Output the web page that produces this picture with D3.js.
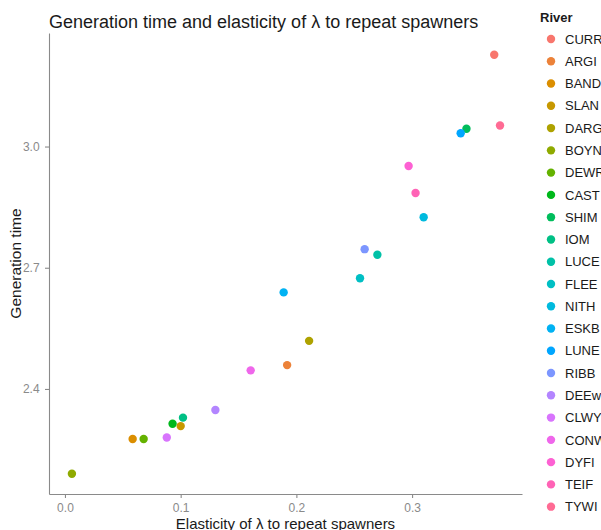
<!DOCTYPE html>
<html>
<head>
<meta charset="utf-8">
<script src="https://cdn.jsdelivr.net/npm/d3@7"></script>
<style>
  html, body { margin: 0; padding: 0; background: #fff; }
  svg { display: block; font-family: "Liberation Sans", Arial, sans-serif; }
</style>
</head>
<body>
<svg id="chart" width="601" height="530"></svg>
<script>
// River populations, in legend order
const rivers = ["CURR","ARGI","BAND","SLAN","DARG","BOYN","DEWR","CAST","SHIM","IOM","LUCE",
                "FLEE","NITH","ESKB","LUNE","RIBB","DEEw","CLWY","CONW","DYFI","TEIF","TYWI"];
// Elasticity of lambda to repeat spawners
const elasticity = [0.371, 0.192, 0.0585, 0.100, 0.211, 0.006, 0.068, 0.093, 0.347, 0.102, 0.270,
                    0.255, 0.310, 0.189, 0.342, 0.259, 0.130, 0.088, 0.1605, 0.297, 0.303, 0.376];
// Generation time (years)
const genTime = [3.227, 2.459, 2.276, 2.308, 2.519, 2.190, 2.276, 2.314, 3.044, 2.329, 2.732,
                 2.674, 2.825, 2.639, 3.033, 2.746, 2.348, 2.280, 2.446, 2.952, 2.885, 3.052];
const xTicks = [0.0, 0.1, 0.2, 0.3];
const yTicks = [2.4, 2.7, 3.0];

// Polar CIE-LUV to sRGB hex (hue palette with equally spaced hues)
function polarLuv(h, c, l) {
  const hr = h * Math.PI / 180;
  const U = c * Math.cos(hr), V = c * Math.sin(hr);
  const Xn = 95.047, Yn = 100, Zn = 108.883;
  const Y = l > 8 ? Yn * Math.pow((l + 16) / 116, 3) : Yn * l / 903.3;
  const den = Xn + 15 * Yn + 3 * Zn;
  const un = 4 * Xn / den, vn = 9 * Yn / den;
  const u = U / (13 * l) + un, v = V / (13 * l) + vn;
  const X = 9 * Y * u / (4 * v);
  const Z = -X / 3 - 5 * Y + 3 * Y / v;
  const x = X / 100, y = Y / 100, z = Z / 100;
  const lin = [
     3.240479 * x - 1.537150 * y - 0.498535 * z,
    -0.969256 * x + 1.875992 * y + 0.041556 * z,
     0.055648 * x - 0.204043 * y + 1.057311 * z
  ];
  const g = lin.map(t => {
    const s = t <= 0.0031308 ? 12.92 * t : 1.055 * Math.pow(t, 1 / 2.4) - 0.055;
    return Math.round(Math.max(0, Math.min(1, s)) * 255);
  });
  return d3.rgb(g[0], g[1], g[2]).formatHex();
}
const n = rivers.length;
const palette = rivers.map((_, i) => polarLuv(15 + i * 360 / n, 100, 65));
const colour = d3.scaleOrdinal().domain(rivers).range(palette);

const svg = d3.select("#chart");
const panel = { left: 49, right: 522, top: 33, bottom: 494 };

const x = d3.scaleLinear().domain([-0.0138, 0.395]).range([panel.left, panel.right]);
const y = d3.scaleLinear().domain([2.140, 3.281]).range([panel.bottom, panel.top]);

const axisCol = "#8a8a8a";
const tickTextCol = "#8a8a8a";

// x axis
const gx = svg.append("g")
  .attr("transform", `translate(0,${panel.bottom})`)
  .call(d3.axisBottom(x).tickValues(xTicks).tickFormat(d3.format(".1f")).tickSize(4).tickSizeOuter(0));
// y axis
const gy = svg.append("g")
  .attr("transform", `translate(${panel.left},0)`)
  .call(d3.axisLeft(y).tickValues(yTicks).tickFormat(d3.format(".1f")).tickSize(4).tickSizeOuter(0));

[gx, gy].forEach(g => {
  g.select(".domain").attr("stroke", axisCol).attr("stroke-width", 1.1);
  g.selectAll(".tick line").attr("stroke", axisCol).attr("stroke-width", 1.1);
  g.selectAll(".tick text").attr("fill", tickTextCol).attr("font-size", 12)
    .attr("font-family", "Liberation Sans, Arial, sans-serif");
});
gx.selectAll(".tick text").attr("dy", "0.95em");
gy.selectAll(".tick text").attr("dx", "-0.2em");

// points
svg.append("g").selectAll("circle")
  .data(rivers.map((r, i) => ({ river: r, e: elasticity[i], g: genTime[i] })))
  .join("circle")
  .attr("cx", d => x(d.e))
  .attr("cy", d => y(d.g))
  .attr("r", 4.2)
  .attr("fill", d => colour(d.river));

// title
svg.append("text")
  .attr("x", 49).attr("y", 28)
  .attr("font-size", 18).attr("fill", "#1a1a1a")
  .text("Generation time and elasticity of λ to repeat spawners");

// axis titles
svg.append("text")
  .attr("x", (panel.left + panel.right) / 2).attr("y", 529)
  .attr("text-anchor", "middle").attr("font-size", 15).attr("fill", "#1a1a1a")
  .text("Elasticity of λ to repeat spawners");
svg.append("text")
  .attr("transform", `translate(21,${(panel.top + panel.bottom) / 2}) rotate(-90)`)
  .attr("text-anchor", "middle").attr("font-size", 15.5).attr("fill", "#1a1a1a")
  .text("Generation time");

// legend
const leg = svg.append("g");
leg.append("text").attr("x", 540).attr("y", 22)
  .attr("font-size", 13).attr("font-weight", "bold").attr("fill", "#1a1a1a").text("River");
const items = leg.selectAll("g.item").data(rivers).join("g")
  .attr("transform", (d, i) => `translate(0,${39 + i * 22.27})`);
items.append("circle").attr("cx", 551).attr("cy", 0).attr("r", 4.2).attr("fill", d => colour(d));
items.append("text").attr("x", 565).attr("y", 0).attr("dy", "0.36em")
  .attr("font-size", 13).attr("fill", "#1a1a1a").text(d => d);
</script>
</body>
</html>
